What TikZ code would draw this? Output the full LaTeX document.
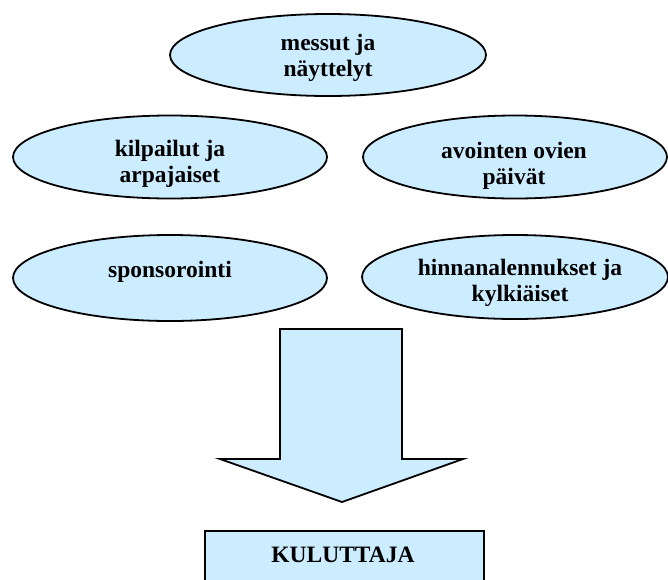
\documentclass[tikz,border=0pt]{standalone}
\usepackage{fontspec}
\setmainfont{Liberation Serif}[BoldFont={Liberation Serif Bold}]
\newfontfamily\timesbold{Liberation Serif Bold}
\usetikzlibrary{shapes.geometric}
\definecolor{fillblue}{HTML}{CCECFF}
\begin{document}
\begin{tikzpicture}[x=1pt,y=-1pt,
  txt/.style={font=\timesbold\fontsize{23.5}{25.5}\selectfont,align=center,inner sep=0pt},
  bubble/.style={ellipse,draw=black,line width=1.8pt,fill=fillblue,inner sep=0pt},
  bigarrow/.style={draw=black,line width=1.8pt,fill=fillblue,line join=miter},
  target/.style={rectangle,draw=black,line width=1.8pt,fill=fillblue,inner sep=0pt}]
\useasboundingbox (0,0) rectangle (668,579);
\clip (0,0) rectangle (668,579);
\node[bubble,minimum width=316pt,minimum height=82pt] (messut) at (328,55) {};
\node[txt] (messutlbl) at (328,58) {messut ja\\näyttelyt};
\node[bubble,minimum width=314pt,minimum height=83pt] (kilp) at (170,157) {};
\node[txt] (kilplbl) at (170,164) {kilpailut ja\\arpajaiset};
\node[bubble,minimum width=304pt,minimum height=83pt] (avoin) at (515,157) {};
\node[txt] (avoinlbl) at (514,166) {avointen ovien\\päivät};
\node[bubble,minimum width=314pt,minimum height=86pt] (spon) at (170,278) {};
\node[txt,anchor=base] (sponlbl) at (170,277) {sponsorointi};
\node[bubble,minimum width=306pt,minimum height=84pt] (hinn) at (515,277) {};
\node[txt] (hinnlbl) at (520,283) {hinnanalennukset ja\\kylkiäiset};
\draw[bigarrow] (280,329) -- (402,329) -- (402,459) -- (463,459) -- (342,502) -- (220,459) -- (280,459) -- cycle;
\node[target,minimum width=279pt,minimum height=60pt,anchor=north west] (kul) at (204,530) {};
\node[txt,anchor=base] (kullbl) at (343,562) {KULUTTAJA};
\end{tikzpicture}
\end{document}
